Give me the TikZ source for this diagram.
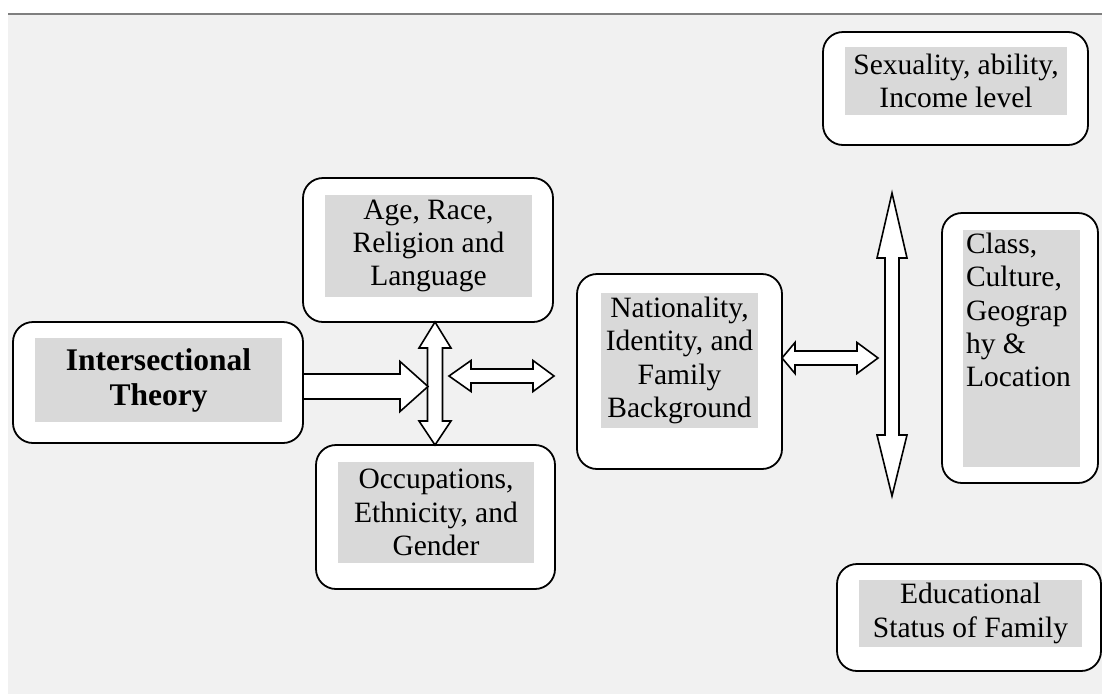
\documentclass[tikz,border=0pt]{standalone}
\usepackage{fontspec}
\setmainfont{Liberation Serif}
\usetikzlibrary{calc}
\definecolor{bg}{HTML}{F1F1F1}
\definecolor{tbg}{HTML}{D9D9D9}
\definecolor{rulegray}{HTML}{7F7F7F}
\tikzset{
  outerbox/.style={draw=black, line width=1.8pt, fill=white, rounded corners=20pt, inner sep=0pt},
  graytext/.style={fill=tbg, inner sep=0pt, align=center, text=black, font=\fontsize{29.5}{33.3}\selectfont},
  blockarrow/.style={draw=black, fill=white, line width=1.6pt, line join=miter},
}
% horizontal double block arrow: left tip, right tip, shaft half, head half, left head len, right head len
\newcommand\hdarrow[6]{%
  \draw[blockarrow] let \p1=(#1), \p2=(#2) in
  (\p1) -- (\x1+#5pt,\y1+#4pt) -- (\x1+#5pt,\y1+#3pt) -- (\x2-#6pt,\y1+#3pt) -- (\x2-#6pt,\y1+#4pt) -- (\p2)
  -- (\x2-#6pt,\y1-#4pt) -- (\x2-#6pt,\y1-#3pt) -- (\x1+#5pt,\y1-#3pt) -- (\x1+#5pt,\y1-#4pt) -- cycle;}
% vertical double block arrow: top tip, bottom tip, shaft half, head half, top head len, bottom head len
\newcommand\vdarrow[6]{%
  \draw[blockarrow] let \p1=(#1), \p2=(#2) in
  (\p1) -- (\x1-#4pt,\y1-#5pt) -- (\x1-#3pt,\y1-#5pt) -- (\x1-#3pt,\y2+#6pt) -- (\x1-#4pt,\y2+#6pt) -- (\p2)
  -- (\x1+#4pt,\y2+#6pt) -- (\x1+#3pt,\y2+#6pt) -- (\x1+#3pt,\y1-#5pt) -- (\x1+#4pt,\y1-#5pt) -- cycle;}
% single right block arrow: tail, tip, shaft half, head half, head len
\newcommand\rarrow[5]{%
  \draw[blockarrow] let \p1=(#1), \p2=(#2) in
  (\x1,\y1+#3pt) -- (\x2-#5pt,\y1+#3pt) -- (\x2-#5pt,\y1+#4pt) -- (\p2) -- (\x2-#5pt,\y1-#4pt)
  -- (\x2-#5pt,\y1-#3pt) -- (\x1,\y1-#3pt) -- cycle;}
\begin{document}
\begin{tikzpicture}[x=1pt,y=-1pt]
\useasboundingbox (0,0) rectangle (1102,694);
\fill[white] (0,0) rectangle (1102,694);
\fill[bg] (8,15) rectangle (1102,694);
\draw[rulegray, line width=2pt] (8,14) -- (1102,14);

% boxes
\node[outerbox, minimum width=290pt, minimum height=121pt] (it) at (158,382.5) {};
\node[graytext, minimum width=247pt, minimum height=84pt, font=\fontsize{31.5}{35}\selectfont\bfseries] (itT) at (158.5,380) {Intersectional\\Theory};

\node[outerbox, minimum width=250pt, minimum height=144pt] (age) at (428,250) {};
\node[graytext, minimum width=207pt, minimum height=102pt] (ageT) at (428.5,246) {Age, Race,\\Religion and\\Language};

\node[outerbox, minimum width=239pt, minimum height=144pt] (occ) at (435.5,517) {};
\node[graytext, minimum width=196pt, minimum height=101pt] (occT) at (436,512.5) {Occupations,\\Ethnicity, and\\Gender};

\node[outerbox, minimum width=205pt, minimum height=195pt] (nat) at (679.5,371.5) {};
\node[graytext, minimum width=157pt, minimum height=135pt] (natT) at (679.5,360.5) {Nationality,\\Identity, and\\Family\\Background};

\node[outerbox, minimum width=265pt, minimum height=113pt] (sex) at (955.5,88.5) {};
\node[graytext, minimum width=222pt, minimum height=68pt] (sexT) at (956,81) {Sexuality, ability,\\Income level};

\node[outerbox, minimum width=156pt, minimum height=270pt] (cls) at (1020,348) {};
\node[graytext, inner sep=3pt, align=left] (clsT) at (1021.5,348.5) {\parbox[c][231pt][t]{111pt}{Class,\\Culture,\\Geograp\\hy \&\\Location}};

\node[outerbox, minimum width=264pt, minimum height=107pt] (edu) at (969,617.5) {};
\node[graytext, minimum width=223pt, minimum height=67pt] (eduT) at (970.5,613.5) {Educational\\Status of Family};

% arrow end points
\coordinate (v1a) at (435,322);
\coordinate (v1b) at (435,445);
\coordinate (ra) at (303,386.5);
\coordinate (rb) at (428,386.5);
\coordinate (h1a) at (449,376);
\coordinate (h1b) at (554,376);
\coordinate (h2a) at (782,358);
\coordinate (h2b) at (878,358);
\coordinate (v2a) at (892,193);
\coordinate (v2b) at (892,496);

\vdarrow{v1a}{v1b}{7.5}{16}{26}{24}
\rarrow{ra}{rb}{12.5}{25}{28}
\hdarrow{h1a}{h1b}{7}{15.5}{22}{21}
\hdarrow{h2a}{h2b}{7}{15.5}{13}{21}
\vdarrow{v2a}{v2b}{7}{15}{65}{61}
\end{tikzpicture}
\end{document}
